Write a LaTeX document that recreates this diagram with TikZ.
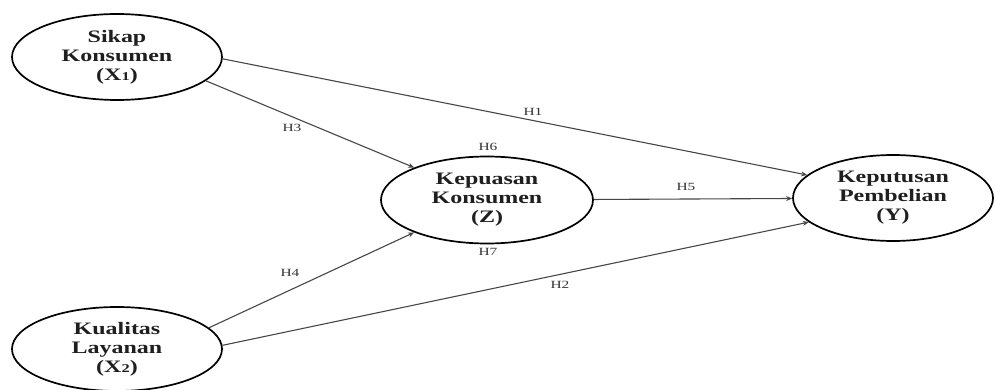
\documentclass[tikz,border=0pt]{standalone}
\usepackage{fontspec}
\usetikzlibrary{shapes.geometric,arrows.meta}
\newfontfamily\latentfont{Liberation Serif}[FakeStretch=1.37]
\newfontfamily\pathfont{Liberation Serif}[FakeStretch=1.4]
\newcommand{\idx}[1]{{\fontsize{12}{12}\selectfont #1}}
\begin{document}
\begin{tikzpicture}[x=1pt,y=-1pt,
  latent/.style={ellipse,draw=black,line width=1.7pt,inner sep=0pt,
    align=center,font=\latentfont\bfseries\fontsize{17.5}{19}\selectfont,
    text=black!88},
  path/.style={draw=black!72,line width=1.1pt,
    -{Stealth[length=6pt,width=5pt]}},
  hlabel/.style={font=\pathfont\fontsize{11}{12}\selectfont,text=black!80,inner sep=0pt}]
\useasboundingbox (0,0) rectangle (996,390);

% latent variables
\node[latent,minimum width=210pt,minimum height=86pt] (x1) at (117,57)
  {Sikap\\Konsumen\\(X\idx{1})};
\node[latent,minimum width=210pt,minimum height=84pt] (x2) at (117,349)
  {Kualitas\\Layanan\\(X\idx{2})};
\node[latent,minimum width=212pt,minimum height=87pt] (z) at (487,200)
  {Kepuasan\\Konsumen\\(Z)};
\node[latent,minimum width=200pt,minimum height=86pt] (y) at (893,198)
  {Keputusan\\Pembelian\\(Y)};

% structural paths
\draw[path] (x1.-1) -- (y.165.8);
\draw[path] (x1.-15.4) -- (z.156.9);
\draw[path] (x2.13.1) -- (z.204.4);
\draw[path] (x2.2.2) -- (y.196.8);
\draw[path] (z) -- (y);

% hypothesis labels
\node[hlabel] (h1) at (533,112) {H1};
\node[hlabel] (h2) at (560,285) {H2};
\node[hlabel] (h3) at (292,128) {H3};
\node[hlabel] (h4) at (290,273) {H4};
\node[hlabel] (h5) at (686,187) {H5};
\node[hlabel] (h6) at (488,147) {H6};
\node[hlabel] (h7) at (488,252) {H7};
\end{tikzpicture}
\end{document}
